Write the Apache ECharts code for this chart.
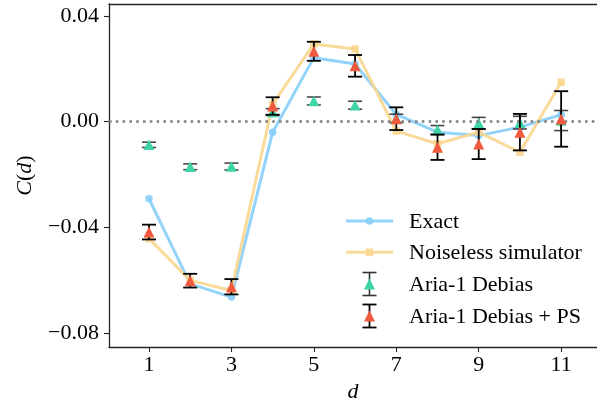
<!DOCTYPE html>
<html>
<head>
<meta charset="utf-8">
<script src="https://cdn.jsdelivr.net/npm/echarts@6/dist/echarts.min.js"></script>
<style>
  html, body { margin: 0; padding: 0; background: #ffffff; }
  #chart { width: 597px; height: 404px; }
</style>
</head>
<body>
<div id="chart"></div>
<script>
// Distance d between sites
const dValues = [1, 2, 3, 4, 5, 6, 7, 8, 9, 10, 11];

// Correlation C(d) per method
const exact      = [-0.0292, -0.0614, -0.0664, -0.0040, 0.0242, 0.0218, 0.0027, -0.0040, -0.0053, -0.0021, 0.0026];
const noiseless  = [-0.0443, -0.0601, -0.0639, 0.0066, 0.0294, 0.0275, -0.0036, -0.0084, -0.0040, -0.0116, 0.0149];
const debias     = [-0.0088, -0.0171, -0.0170, 0.0036, 0.0078, 0.0062, 0.0012, -0.0032, -0.0006, -0.0004, 0.0004];
const debiasErr  = [0.0010, 0.0011, 0.0013, 0.0013, 0.0015, 0.0015, 0.0016, 0.0017, 0.0022, 0.0024, 0.0038];
const debiasPS   = [-0.0418, -0.0602, -0.0625, 0.0059, 0.0266, 0.0211, 0.0011, -0.0097, -0.0085, -0.0040, 0.0010];
const debiasPSErr = [0.0028, 0.0026, 0.0029, 0.0033, 0.0036, 0.0041, 0.0043, 0.0048, 0.0057, 0.0069, 0.0105];

// Axis ticks
const xTicks = [1, 3, 5, 7, 9, 11];
const yTicks = [-0.08, -0.04, 0.00, 0.04];

// Series names
const seriesNames = ['Exact', 'Noiseless simulator', 'Aria-1 Debias', 'Aria-1 Debias + PS'];

const FONT = 'Liberation Serif';
const FS = 22;
const C_BLUE = '#87CEFA';
const C_ORANGE = '#FAD68E';
const C_GREEN = '#3FD3A8';
const C_RED = '#F05A3E';
const C_AXIS = '#262626';

const chart = echarts.init(document.getElementById('chart'), null, { renderer: 'canvas' });

const pairs = vals => dValues.map((d, i) => [d, vals[i]]);
const bars = (vals, errs) => dValues.map((d, i) => [d, vals[i] - errs[i], vals[i] + errs[i]]);
const fmtY = v => (v < 0 ? '\u2212' : '') + Math.abs(v).toFixed(2);

// Vertical error bar with caps
function errorBarRenderer(color, width, capHalf) {
  return function (params, api) {
    const x = api.value(0);
    const lo = api.coord([x, api.value(1)]);
    const hi = api.coord([x, api.value(2)]);
    const style = { stroke: color, lineWidth: width, fill: null };
    return {
      type: 'group',
      children: [
        { type: 'line', shape: { x1: lo[0], y1: lo[1], x2: hi[0], y2: hi[1] }, style: style },
        { type: 'line', shape: { x1: lo[0] - capHalf, y1: lo[1], x2: lo[0] + capHalf, y2: lo[1] }, style: style },
        { type: 'line', shape: { x1: hi[0] - capHalf, y1: hi[1], x2: hi[0] + capHalf, y2: hi[1] }, style: style }
      ]
    };
  };
}

// Legend drawn as graphic elements
const LX0 = 346, LX1 = 393, LXC = 369.5, LTX = 409;
const rowsY = [221, 252.3, 284, 316];
function legendText(y, text) {
  return { type: 'text', left: LTX, top: y - 10, z: 10,
    style: { text: text, fontFamily: FONT, fontSize: FS, fill: '#000' } };
}
function legendWhisker(y, color, w) {
  const s = { stroke: color, lineWidth: w };
  return [
    { type: 'line', z: 9, shape: { x1: LXC, y1: y - 11.5, x2: LXC, y2: y + 11.5 }, style: s },
    { type: 'line', z: 9, shape: { x1: LXC - 7, y1: y - 11.5, x2: LXC + 7, y2: y - 11.5 }, style: s },
    { type: 'line', z: 9, shape: { x1: LXC - 7, y1: y + 11.5, x2: LXC + 7, y2: y + 11.5 }, style: s }
  ];
}
function legendTriangle(y, color) {
  return { type: 'polygon', z: 10,
    shape: { points: [[LXC, y - 5.5], [LXC - 5.5, y + 5.5], [LXC + 5.5, y + 5.5]] },
    style: { fill: color } };
}
const legendGraphics = [
  { type: 'line', z: 9, shape: { x1: LX0, y1: rowsY[0], x2: LX1, y2: rowsY[0] }, style: { stroke: C_BLUE, lineWidth: 3, opacity: 0.9 } },
  { type: 'circle', z: 10, shape: { cx: LXC, cy: rowsY[0], r: 3.8 }, style: { fill: C_BLUE, opacity: 0.9 } },
  legendText(rowsY[0], seriesNames[0]),
  { type: 'line', z: 9, shape: { x1: LX0, y1: rowsY[1], x2: LX1, y2: rowsY[1] }, style: { stroke: C_ORANGE, lineWidth: 3, opacity: 0.9 } },
  { type: 'rect', z: 10, shape: { x: LXC - 3.8, y: rowsY[1] - 3.8, width: 7.6, height: 7.6 }, style: { fill: C_ORANGE, opacity: 0.9 } },
  legendText(rowsY[1], seriesNames[1]),
  ...legendWhisker(rowsY[2], '#333333', 1.6),
  legendTriangle(rowsY[2], C_GREEN),
  legendText(rowsY[2], seriesNames[2]),
  ...legendWhisker(rowsY[3], '#000000', 1.8),
  legendTriangle(rowsY[3], C_RED),
  legendText(rowsY[3], seriesNames[3])
];

const option = {
  backgroundColor: '#ffffff',
  animation: false,
  grid: { left: 109, top: 4, right: 0, bottom: 57, containLabel: false, outerBoundsMode: 'none' },
  xAxis: [
    {
      type: 'value', min: 0.03, max: 11.87,
      name: 'd', nameLocation: 'middle', nameGap: 34,
      nameTextStyle: { fontFamily: FONT, fontSize: FS, fontStyle: 'italic', color: '#000' },
      axisLine: { show: true, onZero: false, lineStyle: { color: C_AXIS, width: 1.3 } },
      axisTick: { show: true, inside: false, length: 5, customValues: xTicks, lineStyle: { color: C_AXIS, width: 1.1 } },
      axisLabel: { show: true, customValues: xTicks, margin: 7, fontFamily: FONT, fontSize: FS, color: '#000' },
      splitLine: { show: false }
    },
    {
      type: 'value', position: 'top', min: 0.03, max: 11.87,
      axisLine: { show: true, onZero: false, lineStyle: { color: C_AXIS, width: 1.3 } },
      axisTick: { show: false }, axisLabel: { show: false }, splitLine: { show: false }
    }
  ],
  yAxis: {
    type: 'value', min: -0.0853, max: 0.0445,
    name: '{i|C}({i|d})', nameLocation: 'middle', nameGap: 73, nameRotate: 90,
    nameTextStyle: {
      fontFamily: FONT, fontSize: FS, color: '#000',
      rich: { i: { fontFamily: FONT, fontSize: FS, fontStyle: 'italic', color: '#000' } }
    },
    axisLine: { show: true, onZero: false, lineStyle: { color: C_AXIS, width: 1.3 } },
    axisTick: { show: true, inside: false, length: 5, customValues: yTicks, lineStyle: { color: C_AXIS, width: 1.1 } },
    axisLabel: { show: true, customValues: yTicks, margin: 10, formatter: fmtY, fontFamily: FONT, fontSize: FS, color: '#000' },
    splitLine: { show: false }
  },
  graphic: legendGraphics,
  series: [
    {
      name: seriesNames[0], type: 'line', data: pairs(exact), z: 2,
      symbol: 'circle', symbolSize: 7.5,
      itemStyle: { color: C_BLUE, opacity: 0.9 },
      lineStyle: { color: C_BLUE, width: 3, opacity: 0.9 },
      markLine: {
        silent: true, symbol: ['none', 'none'], label: { show: false },
        lineStyle: { color: '#7f7f7f', width: 2.6, type: [2.6, 4.2], cap: 'butt' },
        data: [{ yAxis: 0 }]
      }
    },
    {
      name: seriesNames[1], type: 'line', data: pairs(noiseless), z: 2,
      symbol: 'rect', symbolSize: 7.5,
      itemStyle: { color: C_ORANGE, opacity: 0.9 },
      lineStyle: { color: C_ORANGE, width: 3, opacity: 0.9 }
    },
    {
      name: seriesNames[2] + ' error', type: 'custom', z: 3,
      data: bars(debias, debiasErr), encode: { x: 0, y: [1, 2] },
      renderItem: errorBarRenderer('rgba(40,40,40,0.85)', 1.6, 7)
    },
    {
      name: seriesNames[2], type: 'scatter', z: 4,
      data: pairs(debias), symbol: 'triangle', symbolSize: [11, 10.5],
      itemStyle: { color: C_GREEN, opacity: 1 }
    },
    {
      name: seriesNames[3] + ' error', type: 'custom', z: 5,
      data: bars(debiasPS, debiasPSErr), encode: { x: 0, y: [1, 2] },
      renderItem: errorBarRenderer('#000000', 1.8, 7)
    },
    {
      name: seriesNames[3], type: 'scatter', z: 6,
      data: pairs(debiasPS), symbol: 'triangle', symbolSize: [11, 11],
      itemStyle: { color: C_RED, opacity: 1 }
    }
  ]
};

chart.setOption(option);
</script>
</body>
</html>
